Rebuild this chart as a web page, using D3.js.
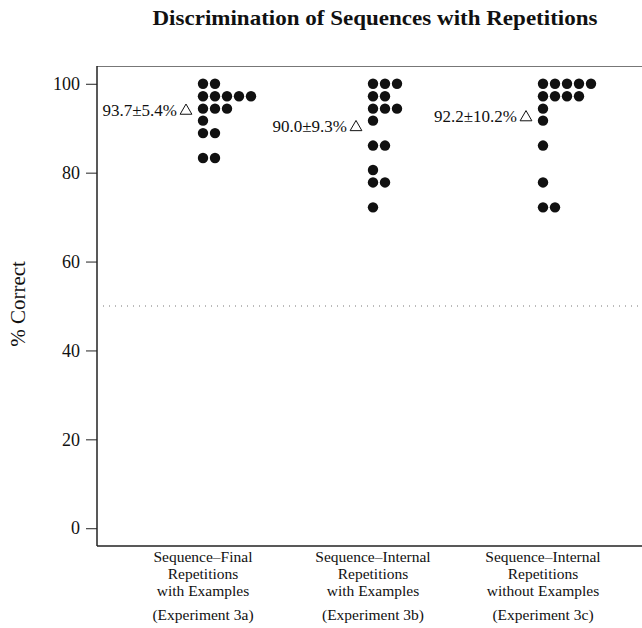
<!DOCTYPE html>
<html>
<head>
<meta charset="utf-8">
<script src="https://cdn.jsdelivr.net/npm/d3@7"></script>
<style>
  body { margin: 0; background: #fff; }
  text { font-family: "Liberation Serif", "DejaVu Serif", serif; fill: #111; }
</style>
</head>
<body>
<div id="chart"></div>
<script>
// three experiments, one dot per participant (% correct)
const groupLabels = [
  ["Sequence\u2013Final", "Repetitions", "with Examples", "(Experiment 3a)"],
  ["Sequence\u2013Internal", "Repetitions", "with Examples", "(Experiment 3b)"],
  ["Sequence\u2013Internal", "Repetitions", "without Examples", "(Experiment 3c)"]
];
const exp3a = [100, 100, 97.2, 97.2, 97.2, 97.2, 97.2, 94.4, 94.4, 94.4, 91.7, 88.9, 88.9, 83.3, 83.3];
const exp3b = [100, 100, 100, 97.2, 97.2, 94.4, 94.4, 94.4, 91.7, 86.1, 86.1, 80.6, 77.8, 77.8, 72.2];
const exp3c = [100, 100, 100, 100, 100, 97.2, 97.2, 97.2, 97.2, 94.4, 91.7, 86.1, 77.8, 72.2, 72.2];
const summaryText = ["93.7\u00b15.4%", "90.0\u00b19.3%", "92.2\u00b110.2%"];
const yTicks = [0, 20, 40, 60, 80, 100];
const chance = 50;

const groups = [exp3a, exp3b, exp3c];

/* sizes */
const width = 642, height = 628;
const plot = {left: 97, top: 66, bottom: 546};

const svg = d3.select("#chart").append("svg")
  .attr("width", width).attr("height", height);

/* scales */
const x = d3.scaleLinear().domain([1, 3]).range([203, 543]);
const y = d3.scaleLinear().domain([-4, 104]).range([plot.bottom, plot.top]);

/* box: gray top, dark left and bottom */
svg.append("line")
  .attr("x1", plot.left).attr("x2", width + 5)
  .attr("y1", plot.top + 0.5).attr("y2", plot.top + 0.5)
  .attr("stroke", "#777").attr("stroke-width", 1);
svg.append("line")
  .attr("x1", plot.left).attr("x2", width + 5)
  .attr("y1", plot.bottom).attr("y2", plot.bottom)
  .attr("stroke", "#222").attr("stroke-width", 1.5);

/* y axis */
const yAxis = d3.axisLeft(y).tickValues(yTicks).tickSize(11).tickPadding(6);
const gy = svg.append("g")
  .attr("transform", "translate(" + plot.left + ",0)")
  .call(yAxis);
gy.select(".domain").remove();
gy.selectAll(".tick line").attr("stroke", "#222");
gy.selectAll(".tick text")
  .style("font-family", "'Liberation Serif', serif")
  .style("font-size", "18px").attr("fill", "#111");
svg.append("line")
  .attr("x1", plot.left).attr("x2", plot.left)
  .attr("y1", plot.top).attr("y2", plot.bottom)
  .attr("stroke", "#222").attr("stroke-width", 1.5);

svg.append("text")
  .attr("transform", "translate(25," + (y(50) - 2) + ") rotate(-90)")
  .attr("text-anchor", "middle")
  .style("font-size", "21px")
  .text("% Correct");

/* chance line */
svg.append("line")
  .attr("x1", plot.left + 6).attr("x2", width)
  .attr("y1", y(chance)).attr("y2", y(chance))
  .attr("stroke", "#777").attr("stroke-width", 1)
  .attr("stroke-dasharray", "1,5");

/* title */
svg.append("text")
  .attr("x", 375).attr("y", 25)
  .attr("text-anchor", "middle")
  .attr("textLength", 445).attr("lengthAdjust", "spacingAndGlyphs")
  .style("font-size", "21px").style("font-weight", "bold")
  .text("Discrimination of Sequences with Repetitions");

/* dots: stack same values to the right */
const dotStep = 12, r = 5.2;
groups.forEach((vals, i) => {
  const counts = {};
  const pts = vals.map(v => {
    const k = counts[v] || 0;
    counts[v] = k + 1;
    return {v: v, k: k};
  });
  svg.append("g").selectAll("circle")
    .data(pts).enter().append("circle")
    .attr("cx", d => x(i + 1) + d.k * dotStep)
    .attr("cy", d => y(d.v))
    .attr("r", r)
    .attr("fill", "#111");

  const m = d3.mean(vals);
  const tx = x(i + 1) - 17, ty = y(m);
  svg.append("path")
    .attr("d", d3.symbol().type(d3.symbolTriangle).size(60)())
    .attr("transform", "translate(" + tx + "," + (ty - 1) + ")")
    .attr("fill", "none").attr("stroke", "#111").attr("stroke-width", 1);
  svg.append("text")
    .attr("x", tx - 9).attr("y", ty + 4)
    .attr("text-anchor", "end")
    .style("font-size", "17px")
    .text(summaryText[i]);

  /* category label */
  const lab = svg.append("text")
    .attr("text-anchor", "middle")
    .style("font-size", "15.5px");
  groupLabels[i].forEach((line, j) => {
    lab.append("tspan")
      .attr("x", x(i + 1))
      .attr("y", 562 + j * 17 + (j === 3 ? 7 : 0))
      .text(line);
  });
});
</script>
</body>
</html>
